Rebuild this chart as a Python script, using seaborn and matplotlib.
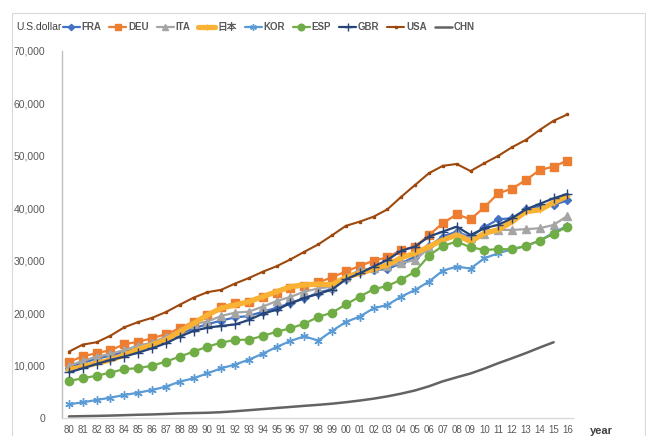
import matplotlib
matplotlib.use('Agg')
import matplotlib.pyplot as plt
import seaborn as sns
import numpy as np
from matplotlib.patches import Rectangle
from matplotlib.ticker import FuncFormatter

sns.set_theme(style='white')
plt.rcParams['font.family'] = ['Liberation Sans', 'Noto Sans CJK JP']

# years 1980-2016, labels as two digits
years = list(range(1980, 2017))
year_labels = [str(y)[2:] for y in years]

# GDP per capita (U.S.dollar)
fra = [9600, 10500, 11300, 11900, 12600, 13300, 13900, 14800, 16000, 17100,
       17880, 18580, 19200, 19450, 20290, 21000, 21900, 22800, 23900, 24600,
       26550, 27900, 28250, 28400, 29520, 30790, 32800, 34600, 35550, 34500,
       36400, 37900, 38100, 39800, 40450, 40650, 41500]
deu = [10650, 11800, 12350, 12950, 14050, 14550, 15200, 16000, 17100, 18400,
       19650, 21250, 21880, 22050, 23150, 23900, 24850, 25100, 25850, 26850,
       27950, 29000, 30000, 30650, 32050, 32700, 34900, 37150, 38850, 37900,
       40200, 42850, 43750, 45400, 47300, 47950, 49100]
ita = [9990, 10880, 11700, 12210, 12980, 13800, 14380, 15520, 16670, 17940,
       18390, 19470, 20100, 20290, 21250, 22300, 23100, 24100, 24700, 25060,
       26900, 28240, 28560, 29010, 29520, 30150, 32380, 33840, 35370, 34290,
       35110, 35880, 35880, 36010, 36200, 36830, 38550]
jpn = [9150, 9800, 10450, 11050, 12000, 13100, 13900, 14900, 16450, 18050,
       19650, 20950, 21560, 22200, 23150, 24100, 25050, 25400, 25550, 25400,
       26850, 27600, 28400, 29200, 30600, 31400, 32700, 33950, 34900, 33650,
       35250, 35900, 37450, 39350, 39700, 41100, 42350]
kor = [2610, 2990, 3440, 3880, 4390, 4830, 5340, 5980, 6930, 7570,
       8520, 9480, 10200, 11130, 12270, 13550, 14690, 15580, 14760, 16600,
       18320, 19340, 20930, 21560, 23160, 24430, 26020, 28110, 28880, 28500,
       30470, 31420, 32190, 32820, 33840, 35370, 36640]
esp = [7060, 7570, 8080, 8650, 9350, 9480, 9990, 10750, 11700, 12660,
       13610, 14380, 14890, 14950, 15650, 16450, 17110, 18000, 19270, 20100,
       21650, 23160, 24550, 25190, 26400, 27920, 30980, 32820, 33650, 32570,
       32060, 32190, 32190, 32820, 33840, 35110, 36510]
gbr = [8700, 9480, 10300, 11070, 11700, 12470, 13290, 14250, 15520, 16600,
       17240, 17560, 17850, 18700, 19900, 20650, 21880, 22900, 23660, 24500,
       26450, 27600, 28880, 30150, 31900, 32700, 34600, 35560, 36500, 34900,
       36200, 36850, 38100, 39800, 40850, 41900, 42750]
usa = [12650, 14000, 14450, 15700, 17300, 18300, 19100, 20200, 21600, 22950,
       24000, 24450, 25650, 26700, 27900, 28950, 30250, 31700, 33100, 34850,
       36650, 37450, 38400, 39800, 42200, 44450, 46700, 48100, 48450, 47100,
       48600, 50000, 51650, 53050, 54950, 56700, 57900]
chn = [300, 350, 400, 460, 540, 620, 680, 770, 880, 940,
       1000, 1110, 1290, 1490, 1700, 1910, 2110, 2320, 2510, 2730,
       3010, 3330, 3690, 4130, 4650, 5260, 6050, 7000, 7760, 8490,
       9420, 10450, 11400, 12380, 13440, 14450, np.nan]

series = [
    ('FRA', fra, '#4472C4', dict(marker='D', markersize=4, lw=1.6)),
    ('DEU', deu, '#ED7D31', dict(marker='s', markersize=6, lw=1.6)),
    ('ITA', ita, '#A5A5A5', dict(marker='^', markersize=6, lw=1.6)),
    ('日本', jpn, '#F9B233', dict(marker='+', markersize=5, lw=3.8)),
    ('KOR', kor, '#5B9BD5', dict(marker=(6, 2, 0), markersize=6, lw=1.6)),
    ('ESP', esp, '#70AD47', dict(marker='o', markersize=6, lw=1.6)),
    ('GBR', gbr, '#264478', dict(marker='+', markersize=7, lw=1.6)),
    ('USA', usa, '#9E480E', dict(marker='s', markersize=2, lw=1.5)),
    ('CHN', chn, '#636363', dict(marker=None, lw=1.8)),
]

fig = plt.figure(figsize=(6.46, 4.36), dpi=100)
ax = fig.add_axes([62 / 646, 18 / 436, 511 / 646, 367 / 436])

x = np.arange(len(years))
for name, vals, col, kw in series:
    sns.lineplot(x=x, y=vals, ax=ax, color=col, label=name,
                 markeredgecolor=col, markeredgewidth=1.0, **kw)

ax.set_xlim(-0.5, 36.4)
ax.set_ylim(0, 70000)
ax.set_yticks(range(0, 70001, 10000))
ax.yaxis.set_major_formatter(FuncFormatter(lambda v, p: f'{int(v):,}'))
ax.set_xticks(x)
ax.set_xticklabels(year_labels)
ax.tick_params(axis='x', length=0, pad=5, labelsize=7, labelcolor='#595959')
ax.tick_params(axis='y', length=0, pad=12, labelsize=7.5, labelcolor='#595959')
for s in ['top', 'right']:
    ax.spines[s].set_visible(False)
ax.spines['left'].set_color('#bfbfbf')
ax.spines['bottom'].set_color('#d9d9d9')
ax.spines['left'].set_linewidth(1.0)
ax.spines['bottom'].set_linewidth(1.0)
ax.set_xlabel('')
ax.set_ylabel('')

handles, labels = ax.get_legend_handles_labels()
ax.get_legend().remove()
fig.legend(handles, labels, loc='center left', bbox_to_anchor=(56 / 646, 1 - 27 / 436),
           ncol=9, frameon=False, handlelength=1.75, handletextpad=0.2,
           columnspacing=0.8, borderpad=0.2, prop={'size': 7, 'weight': 'bold'},
           labelcolor='#595959', markerscale=0.8)

fig.text(16 / 646, 1 - 27 / 436, 'U.S.dollar', fontsize=7.5, color='#404040',
         va='center', ha='left')
fig.text(590 / 646, 1 - 431 / 436, 'year', fontsize=8, color='#404040',
         va='center', ha='left', fontweight='bold')

fig.patches.append(Rectangle((12 / 646, -0.02), 633 / 646, 1.02 - 13 / 436,
                             transform=fig.transFigure, fill=False,
                             edgecolor='#d9d9d9', lw=0.8))

fig.savefig('out.png', dpi=100)
